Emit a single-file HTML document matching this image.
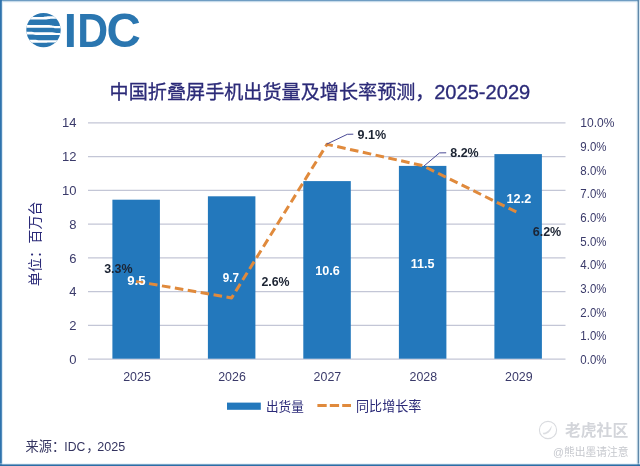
<!DOCTYPE html>
<html lang="zh-CN">
<head>
<meta charset="utf-8">
<title>中国折叠屏手机出货量及增长率预测，2025-2029</title>
<style>
html,body{margin:0;padding:0;background:#fff;}
body{width:640px;height:466px;overflow:hidden;}
svg{display:block;}
text{font-family:"Liberation Sans","Noto Sans CJK SC",sans-serif;}
.ax{font-size:13px;fill:#3a3a6a;}
.dl{font-size:12.1px;font-weight:bold;}
.grid{stroke:#c3c6d6;stroke-width:1.3;}
.bar{fill:#2378bc;}
</style>
</head>
<body>
<svg width="640" height="466" viewBox="0 0 640 466">
  <!-- frame -->
  <rect x="0" y="0" width="640" height="466" fill="#ffffff"/>
  <rect x="0" y="0" width="640" height="1.5" fill="#6f9dc3"/>
  <rect x="0" y="1.5" width="640" height="0.8" fill="#d7e8f3"/>
  <rect x="637.4" y="0" width="1.7" height="466" fill="#5f88aa"/>
  <rect x="639.1" y="0" width="0.9" height="466" fill="#d3e5f1"/>
  <rect x="636.6" y="1.5" width="0.8" height="463" fill="#d7e8f3"/>
  <rect x="0" y="0" width="1.9" height="466" fill="#2e73ad"/>
  <rect x="1.9" y="1.5" width="0.8" height="463" fill="#cfe3f0"/>
  <rect x="0" y="463.6" width="640" height="0.8" fill="#cfe3f0"/>
  <rect x="0" y="464.4" width="640" height="1.6" fill="#2c6ea6"/>

  <!-- IDC logo -->
  <g id="logo" fill="#2a76b0">
    <clipPath id="globe"><circle cx="43.5" cy="30.1" r="17.2"/></clipPath>
    <g clip-path="url(#globe)">
      <rect x="24" y="11" width="40" height="38"/>
      <g fill="#ffffff">
        <path d="M24 17.1 L41 17.1 C45 17.1 45 16.3 49 16.3 L64 16.3 L64 18.7 L52 18.7 C48 18.7 48 19.5 44 19.5 L24 19.5 Z"/>
        <path d="M24 24.9 L48 24.9 C52 24.9 52 25.9 56 25.9 L64 25.9 L64 28.3 L58 28.3 C54 28.3 54 27.7 50 27.7 L24 27.7 Z"/>
        <path d="M24 31.8 L30 31.8 C33 31.8 33 32.3 36 32.3 L52 32.3 C55 32.3 55 33.1 58 33.1 L64 33.1 L64 34.9 L36 34.9 C33 34.9 33 34.5 30 34.5 L24 34.5 Z"/>
        <path d="M24 39.8 L34 39.8 C37 39.8 37 40.3 40 40.3 L64 40.3 L64 42.4 L50 42.4 C46 42.4 46 42.8 42 42.8 L24 42.8 Z"/>
      </g>
    </g>
    <text y="47" font-size="47.5" font-weight="bold"><tspan x="63.7">I</tspan></text>
    <text transform="translate(77.2,47) scale(0.9,1)" font-size="47.5" font-weight="bold">D</text>
    <text transform="translate(106.6,47) scale(1,1)" font-size="47.5" font-weight="bold">C</text>
  </g>

  <!-- title -->
  <text x="109.6" y="98.9" font-size="19.12" fill="#2b2a78" stroke="#2b2a78" stroke-width="0.3">中国折叠屏手机出货量及增长率预测，<tspan font-size="20.1" dx="-0.3">2025-2029</tspan></text>

  <!-- gridlines -->
  <g class="grid">
    <line x1="88" x2="565.5" y1="122.8" y2="122.8"/>
    <line x1="88" x2="565.5" y1="156.6" y2="156.6"/>
    <line x1="88" x2="565.5" y1="190.3" y2="190.3"/>
    <line x1="88" x2="565.5" y1="224.1" y2="224.1"/>
    <line x1="88" x2="565.5" y1="257.9" y2="257.9"/>
    <line x1="88" x2="565.5" y1="291.7" y2="291.7"/>
    <line x1="88" x2="565.5" y1="325.4" y2="325.4"/>
    <line x1="88" x2="565.5" y1="359.2" y2="359.2"/>
  </g>

  <!-- bars -->
  <g class="bar">
    <rect x="112.4" y="199.7" width="47.5" height="159.0"/>
    <rect x="207.9" y="196.3" width="47.5" height="162.4"/>
    <rect x="303.3" y="181.1" width="47.5" height="177.6"/>
    <rect x="398.9" y="165.9" width="47.5" height="192.8"/>
    <rect x="494.4" y="154.1" width="47.5" height="204.6"/>
  </g>

  <!-- left axis -->
  <g class="ax" text-anchor="end">
    <text x="76.5" y="127.4">14</text>
    <text x="76.5" y="161.2">12</text>
    <text x="76.5" y="194.9">10</text>
    <text x="76.5" y="228.7">8</text>
    <text x="76.5" y="262.5">6</text>
    <text x="76.5" y="296.3">4</text>
    <text x="76.5" y="330.0">2</text>
    <text x="76.5" y="363.8">0</text>
  </g>
  <!-- right axis -->
  <g class="ax" lengthAdjust="spacingAndGlyphs">
    <text x="580.3" y="127.4" textLength="34.2" lengthAdjust="spacingAndGlyphs">10.0%</text>
    <text x="580.3" y="151.0" textLength="26.2" lengthAdjust="spacingAndGlyphs">9.0%</text>
    <text x="580.3" y="174.7" textLength="26.2" lengthAdjust="spacingAndGlyphs">8.0%</text>
    <text x="580.3" y="198.3" textLength="26.2" lengthAdjust="spacingAndGlyphs">7.0%</text>
    <text x="580.3" y="222.0" textLength="26.2" lengthAdjust="spacingAndGlyphs">6.0%</text>
    <text x="580.3" y="245.6" textLength="26.2" lengthAdjust="spacingAndGlyphs">5.0%</text>
    <text x="580.3" y="269.2" textLength="26.2" lengthAdjust="spacingAndGlyphs">4.0%</text>
    <text x="580.3" y="292.9" textLength="26.2" lengthAdjust="spacingAndGlyphs">3.0%</text>
    <text x="580.3" y="316.5" textLength="26.2" lengthAdjust="spacingAndGlyphs">2.0%</text>
    <text x="580.3" y="340.2" textLength="26.2" lengthAdjust="spacingAndGlyphs">1.0%</text>
    <text x="580.3" y="363.8" textLength="26.2" lengthAdjust="spacingAndGlyphs">0.0%</text>
  </g>
  <!-- x axis -->
  <g class="ax" text-anchor="middle">
    <text x="137" y="381.3" textLength="27.6" lengthAdjust="spacingAndGlyphs">2025</text>
    <text x="232" y="381.3" textLength="27.6" lengthAdjust="spacingAndGlyphs">2026</text>
    <text x="327.4" y="381.3" textLength="27.6" lengthAdjust="spacingAndGlyphs">2027</text>
    <text x="423.3" y="381.3" textLength="27.6" lengthAdjust="spacingAndGlyphs">2028</text>
    <text x="518.8" y="381.3" textLength="27.6" lengthAdjust="spacingAndGlyphs">2029</text>
  </g>

  <!-- y axis title -->
  <text transform="translate(40.3,243.8) rotate(-90)" text-anchor="middle" font-size="14.2" fill="#2b2a78">单位：百万台</text>

  <!-- growth line -->
  <polyline points="136.1,281.4 231.6,297.9 327.0,144.3 422.6,165.6 518.1,212.8" fill="none" stroke="#e08a3c" stroke-width="3" stroke-dasharray="8.6 4.5" stroke-linejoin="round"/>

  <!-- leader lines -->
  <polyline points="326.6,144.2 347.3,134.3 353.3,134.2" fill="none" stroke="#4a4a96" stroke-width="1"/>
  <polyline points="424,166 439.5,152.9 446.2,152.8" fill="none" stroke="#4a4a96" stroke-width="1"/>

  <!-- data labels -->
  <g class="dl" fill="#ffffff">
    <text x="127.2" y="284.6" textLength="18.4" lengthAdjust="spacingAndGlyphs">9.5</text>
    <text x="222.8" y="282.1" textLength="16.2" lengthAdjust="spacingAndGlyphs">9.7</text>
    <text x="315.3" y="274.6" textLength="24.6" lengthAdjust="spacingAndGlyphs">10.6</text>
    <text x="410.8" y="267.6" textLength="23.8" lengthAdjust="spacingAndGlyphs">11.5</text>
    <text x="506.6" y="203.3" textLength="24.6" lengthAdjust="spacingAndGlyphs">12.2</text>
  </g>
  <g class="dl" fill="#1c2433">
    <text x="104.2" y="272.6" textLength="28.4" lengthAdjust="spacingAndGlyphs">3.3%</text>
    <text x="261.4" y="286.3" textLength="28.2" lengthAdjust="spacingAndGlyphs">2.6%</text>
    <text x="357.5" y="138.8" textLength="28.6" lengthAdjust="spacingAndGlyphs">9.1%</text>
    <text x="450.3" y="157.1" textLength="28.4" lengthAdjust="spacingAndGlyphs">8.2%</text>
    <text x="532.7" y="236.3" textLength="28.6" lengthAdjust="spacingAndGlyphs">6.2%</text>
  </g>

  <!-- legend -->
  <rect x="227" y="402.6" width="33.8" height="7.2" class="bar"/>
  <text x="266" y="410.8" font-size="12.6" fill="#2b2a78">出货量</text>
  <line x1="317.4" x2="351" y1="405.6" y2="405.6" stroke="#e08a3c" stroke-width="3" stroke-dasharray="9.3 3.1"/>
  <text x="356" y="410.8" font-size="13.1" fill="#2b2a78">同比增长率</text>

  <!-- source -->
  <text y="450.5" font-size="13.2" fill="#33335f"><tspan x="25.6">来源：</tspan><tspan x="64.3" textLength="21" lengthAdjust="spacingAndGlyphs">IDC</tspan><tspan x="86.2">，</tspan><tspan x="97.2" textLength="28" lengthAdjust="spacingAndGlyphs">2025</tspan></text>

  <!-- watermark -->
  <g>
    <circle cx="548" cy="430" r="8.6" fill="none" stroke="#d9dbdf" stroke-width="1.1"/>
    <path d="M542.6 432.8 C546.5 432.6 549.5 430.5 551.6 425.4 C551.9 429.8 548.8 434 543.6 434.4 Z" fill="#dcdee2"/>
    <text x="565" y="436" font-size="16" font-weight="bold" fill="#d3d5da" textLength="63.2" lengthAdjust="spacingAndGlyphs">老虎社区</text>
    <text x="553" y="456.4" font-size="11" fill="#c6c8ce" textLength="75.5" lengthAdjust="spacingAndGlyphs">@熊出墨请注意</text>
  </g>
</svg>
</body>
</html>
